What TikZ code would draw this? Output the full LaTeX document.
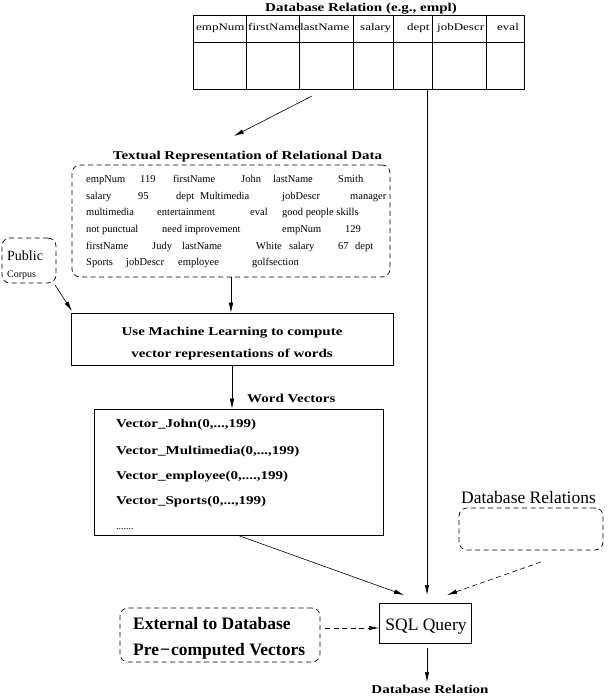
\documentclass[tikz,border=0pt]{standalone}
\usepackage{fontspec}
\setmainfont{Liberation Serif}
\newfontfamily\wide[FakeStretch=1.25]{Liberation Serif}
\newfontfamily\hdr[FakeStretch=1.3]{Liberation Serif}
\usetikzlibrary{arrows.meta}
\begin{document}
\begin{tikzpicture}[x=1pt,y=-1pt,
  ln/.style={line width=0.7pt},
  arr/.style={line width=0.6pt,-{Latex[length=10pt,width=4.5pt]}},
  dsh/.style={dash pattern=on 5pt off 3.5pt},
  rect/.style={draw,line width=0.7pt,inner sep=0pt},
  rbox/.style={draw,line width=0.7pt,inner sep=0pt,dsh,rounded corners=8pt},
  ttl/.style={inner sep=0pt,font=\wide\bfseries\fontsize{12}{14}\selectfont},
  hd/.style={inner sep=0pt,anchor=base west,font=\hdr\fontsize{10}{12}\selectfont},
  tw/.style={inner sep=0pt,anchor=base west,font=\fontsize{10.5}{12}\selectfont},
  vec/.style={inner sep=0pt,anchor=base west,font=\wide\bfseries\fontsize{12}{14}\selectfont},
  big/.style={inner sep=0pt,font=\fontsize{17.5}{20}\selectfont},
  bigb/.style={inner sep=0pt,anchor=base west,font=\bfseries\fontsize{17.5}{20}\selectfont}]
\useasboundingbox (0,0) rectangle (608,696);

% ---- table
\node[ttl,anchor=base] (tbltitle) at (361,11) {Database Relation (e.g., empl)};
\node[rect,minimum width=331pt,minimum height=74pt] (tbl) at (358.5,52) {};
\draw[ln] (193,42) -- (524,42);
\foreach \cx in {246,299,353,393,432,486} \draw[ln] (\cx,15) -- (\cx,89);
\node[hd] (h1) at (196,30) {empNum};
\node[hd] (h2) at (248,30) {firstName};
\node[hd] (h3) at (300,30) {lastName};
\node[hd] (h4) at (360,30) {salary};
\node[hd] (h5) at (407,30) {dept};
\node[hd] (h6) at (437,30) {jobDescr};
\node[hd] (h7) at (497,30) {eval};

% ---- textual representation
\node[ttl,anchor=base] (txttitle) at (247.5,159) {Textual Representation of Relational Data};
\node[rbox,minimum width=318pt,minimum height=112pt] (txt) at (231,221) {};
\node[tw] (w11) at (86,182) {empNum};
\node[tw] (w12) at (140,182) {119};
\node[tw] (w13) at (173,182) {firstName};
\node[tw] (w14) at (241,182) {John};
\node[tw] (w15) at (273,182) {lastName};
\node[tw] (w16) at (338,182) {Smith};
\node[tw] (w21) at (86,199) {salary};
\node[tw] (w22) at (138,199) {95};
\node[tw] (w23) at (176,199) {dept};
\node[tw] (w24) at (200,199) {Multimedia};
\node[tw] (w25) at (282,199) {jobDescr};
\node[tw] (w26) at (350,199) {manager};
\node[tw] (w31) at (86,215) {multimedia};
\node[tw] (w32) at (157,215) {entertainment};
\node[tw] (w33) at (250,215) {eval};
\node[tw] (w34) at (282,215) {good people skills};
\node[tw] (w41) at (86,232) {not punctual};
\node[tw] (w42) at (162,232) {need improvement};
\node[tw] (w43) at (282,232) {empNum};
\node[tw] (w44) at (345,232) {129};
\node[tw] (w51) at (86,249) {firstName};
\node[tw] (w52) at (152,249) {Judy};
\node[tw] (w53) at (182,249) {lastName};
\node[tw] (w54) at (256,249) {White};
\node[tw] (w55) at (289,249) {salary};
\node[tw] (w56) at (338,249) {67};
\node[tw] (w57) at (355,249) {dept};
\node[tw] (w61) at (86,265) {Sports};
\node[tw] (w62) at (126,265) {jobDescr};
\node[tw] (w63) at (178,265) {employee};
\node[tw] (w64) at (252,265) {golfsection};

% ---- public corpus
\node[rbox,minimum width=54pt,minimum height=45pt] (pub) at (29,260.5) {};
\node[inner sep=0pt,anchor=base west,font=\fontsize{14}{16}\selectfont] (pubt) at (7,260) {Public};
\node[inner sep=0pt,anchor=base west,font=\fontsize{10}{12}\selectfont] (corp) at (7,277) {Corpus};

% ---- ML box
\node[rect,minimum width=322pt,minimum height=52pt] (ml) at (232,339) {};
\node[ttl,anchor=base] (ml1) at (232,335) {Use Machine Learning to compute};
\node[ttl,anchor=base] (ml2) at (232,357) {vector representations of words};

% ---- word vectors
\node[ttl,anchor=base west] (wvt) at (247,402) {Word Vectors};
\node[rect,minimum width=289pt,minimum height=126pt] (wv) at (238.5,472) {};
\node[vec] (v1) at (116,427) {Vector\_John(0,...,199)};
\node[vec] (v2) at (116,454) {Vector\_Multimedia(0,...,199)};
\node[vec] (v3) at (116,479) {Vector\_employee(0,....,199)};
\node[vec] (v4) at (116,504) {Vector\_Sports(0,...,199)};
\node[inner sep=0pt,anchor=base west,font=\fontsize{10}{12}\selectfont] (v5) at (116,529) {.......};

% ---- database relations
\node[inner sep=0pt,anchor=base west,font=\fontsize{17.5}{20}\selectfont] (dbrt) at (461,503) {Database Relations};
\node[rbox,minimum width=144pt,minimum height=42pt] (dbr) at (531,529) {};

% ---- external
\node[rbox,minimum width=200pt,minimum height=54pt] (ext) at (220,635) {};
\node[bigb] (e1) at (133,629) {External to Database};
\node[bigb] (e2) at (133,655) {Pre\kern1pt−\kern1pt computed Vectors};

% ---- SQL
\node[rect,minimum width=92pt,minimum height=40pt] (sql) at (425,623) {};
\node[big,anchor=base] (sqlt) at (426,630) {SQL Query};
\node[ttl,anchor=base] (outt) at (430,693) {Database Relation};

% ---- connectors
\coordinate (a1s) at (312,96);
\coordinate (a1e) at (234,136);
\draw[arr] (a1s) -- (a1e);
\draw[arr] (txt.south) -- (txt.south |- ml.north);
\draw[arr] (ml.south) -- (ml.south |- wv.north);
\coordinate (p1s) at (55,285);
\coordinate (p1e) at (72,311);
\draw[arr] (p1s) -- (p1e);
\coordinate (w1s) at (237,535);
\coordinate (q1) at (404,595);
\draw[arr] (w1s) -- (q1);
\coordinate (t1s) at (427,89);
\coordinate (q2) at (427,595);
\draw[arr] (t1s) -- (q2);
\coordinate (d1s) at (541,562);
\coordinate (q3) at (447,595);
\draw[arr,dsh] (d1s) -- (q3);
\coordinate (x1s) at (325,628);
\coordinate (q4) at (379,628);
\draw[arr,dsh] (x1s) -- (q4);
\coordinate (s1s) at (427,648);
\coordinate (s1e) at (427,682);
\draw[arr] (s1s) -- (s1e);
\end{tikzpicture}
\end{document}
